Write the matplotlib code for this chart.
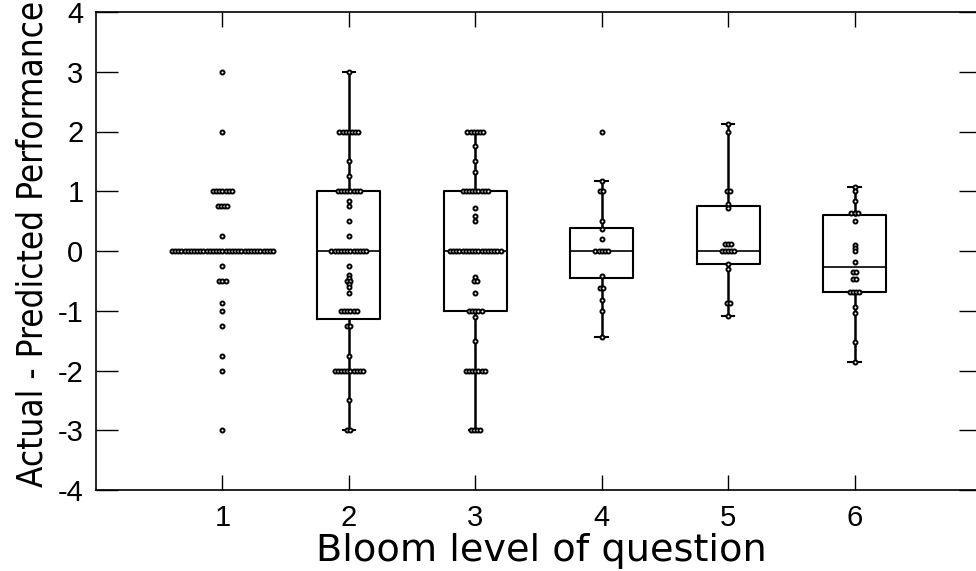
import numpy as np
import matplotlib.pyplot as plt
from matplotlib import font_manager
from matplotlib.font_manager import FontProperties

levels = [1, 2, 3, 4, 5, 6]

# values seen for each Bloom level and how many points sit on each value
g1_vals = [3, 2, 1, 0.75, 0.25, 0, -0.25, -0.5, -0.87, -1, -1.25, -1.75, -2, -3]
g1_counts = [1, 1, 7, 4, 1, 33, 1, 3, 1, 1, 1, 1, 1, 1]

g2_vals = [3, 2, 1.5, 1.25, 1, 0.83, 0.75, 0.5, 0.25, 0, -0.25, -0.4, -0.45,
           -0.5, -0.55, -0.6, -0.7, -1, -1.25, -1.75, -2, -2.5, -3]
g2_counts = [1, 7, 1, 1, 8, 1, 1, 1, 1, 12, 1, 1, 1, 2, 1, 1, 1, 6, 2, 1, 10, 1, 2]

g3_vals = [2, 1.75, 1.5, 1.33, 1, 0.72, 0.58, 0.5, 0, -0.43, -0.5, -0.7, -1,
           -1.1, -1.5, -2, -3]
g3_counts = [6, 1, 1, 1, 9, 1, 1, 1, 17, 1, 2, 1, 5, 1, 1, 7, 4]

g4_vals = [2, 1.17, 1, 0.5, 0.36, 0.2, 0, -0.42, -0.62, -0.82, -1, -1.44]
g4_counts = [1, 1, 2, 1, 1, 1, 5, 1, 2, 1, 1, 1]

g5_vals = [2.12, 2, 1, 0.78, 0.72, 0.12, 0, -0.22, -0.3, -0.87, -1.09]
g5_counts = [1, 1, 2, 1, 1, 3, 5, 1, 1, 2, 1]

g6_vals = [1.07, 1, 0.83, 0.63, 0.5, 0.1, 0.05, 0, -0.18, -0.35, -0.47, -0.69,
           -0.93, -1.04, -1.52, -1.85]
g6_counts = [1, 1, 1, 3, 1, 1, 1, 1, 1, 2, 2, 4, 1, 1, 1, 1]

# box statistics
q1 = [0, -1.13, -1, -0.45, -0.22, -0.69]
med = [0, 0, 0, 0, 0, -0.26]
q3 = [0, 1, 1, 0.39, 0.75, 0.61]
whislo = [0, -3, -3, -1.44, -1.09, -1.85]
whishi = [0, 3, 2, 1.17, 2.12, 1.07]

groups = [(g1_vals, g1_counts), (g2_vals, g2_counts), (g3_vals, g3_counts),
          (g4_vals, g4_counts), (g5_vals, g5_counts), (g6_vals, g6_counts)]

plt.rcParams['axes.unicode_minus'] = False


def narrow_font():
    # look for a condensed sans face, else plain Liberation Sans
    for f in font_manager.fontManager.ttflist:
        nm = f.name.lower()
        if f.style != 'normal' or f.weight not in (400, 'normal', 'regular'):
            continue
        if 'narrow' in nm or 'condensed' in nm or str(f.stretch) in ('condensed', 'semi-condensed'):
            if 'mono' in nm or 'serif' in nm and 'sans' not in nm:
                continue
            return FontProperties(fname=f.fname)
    return FontProperties(family='Liberation Sans')


fig = plt.figure(figsize=(9.76, 5.71), dpi=100)
ax = fig.add_axes([96 / 976, 81 / 571, 885 / 976, 478 / 571])

stats = []
for i in range(len(levels)):
    stats.append({'q1': q1[i], 'med': med[i], 'q3': q3[i],
                  'whislo': whislo[i], 'whishi': whishi[i], 'fliers': []})

ax.bxp(stats, positions=levels, widths=0.5, capwidths=0.1, showfliers=False,
       manage_ticks=False,
       boxprops=dict(color='black', lw=1.5),
       whiskerprops=dict(color='black', lw=1.8),
       capprops=dict(color='black', lw=1.5),
       medianprops=dict(color='black', lw=1.2))

# points sharing a value are spread sideways
step = 0.025
for pos, (vals, counts) in zip(levels, groups):
    for v, c in zip(vals, counts):
        xs = pos + (np.arange(c) - (c - 1) / 2) * step
        ax.plot(xs, [v] * c, 'o', ms=2.9, mfc='white', mec='black', mew=1.4,
                zorder=3, clip_on=False)

ax.set_xlim(0, 7)
ax.set_ylim(-4, 4)
ax.set_xticks(levels)
ax.set_yticks(range(-4, 5))
for s in ax.spines.values():
    s.set_linewidth(1.2)
ax.tick_params(direction='in', top=True, right=True, width=1, labelsize=21)
ax.tick_params(axis='x', length=11, pad=10)
ax.tick_params(axis='y', length=16, pad=9)
for lab in ax.get_xticklabels() + ax.get_yticklabels():
    lab.set_family('Liberation Sans')

xl = ax.set_xlabel('Bloom level of question', fontsize=28, family='DejaVu Sans')
yfp = narrow_font()
yfp.set_size(33)
yl = ax.set_ylabel('Actual - Predicted Performance', fontproperties=yfp)
ax.xaxis.set_label_coords(0.503, -0.091)
ax.yaxis.set_label_coords(-0.053, 0.515)

# fit the label lengths to the reference
fig.canvas.draw()
r = fig.canvas.get_renderer()
w = xl.get_window_extent(r).width
xl.set_fontsize(28 * 450 / w)
h = yl.get_window_extent(r).height
yl.set_fontsize(33 * 486 / h)

fig.savefig('out.png', dpi=100)
